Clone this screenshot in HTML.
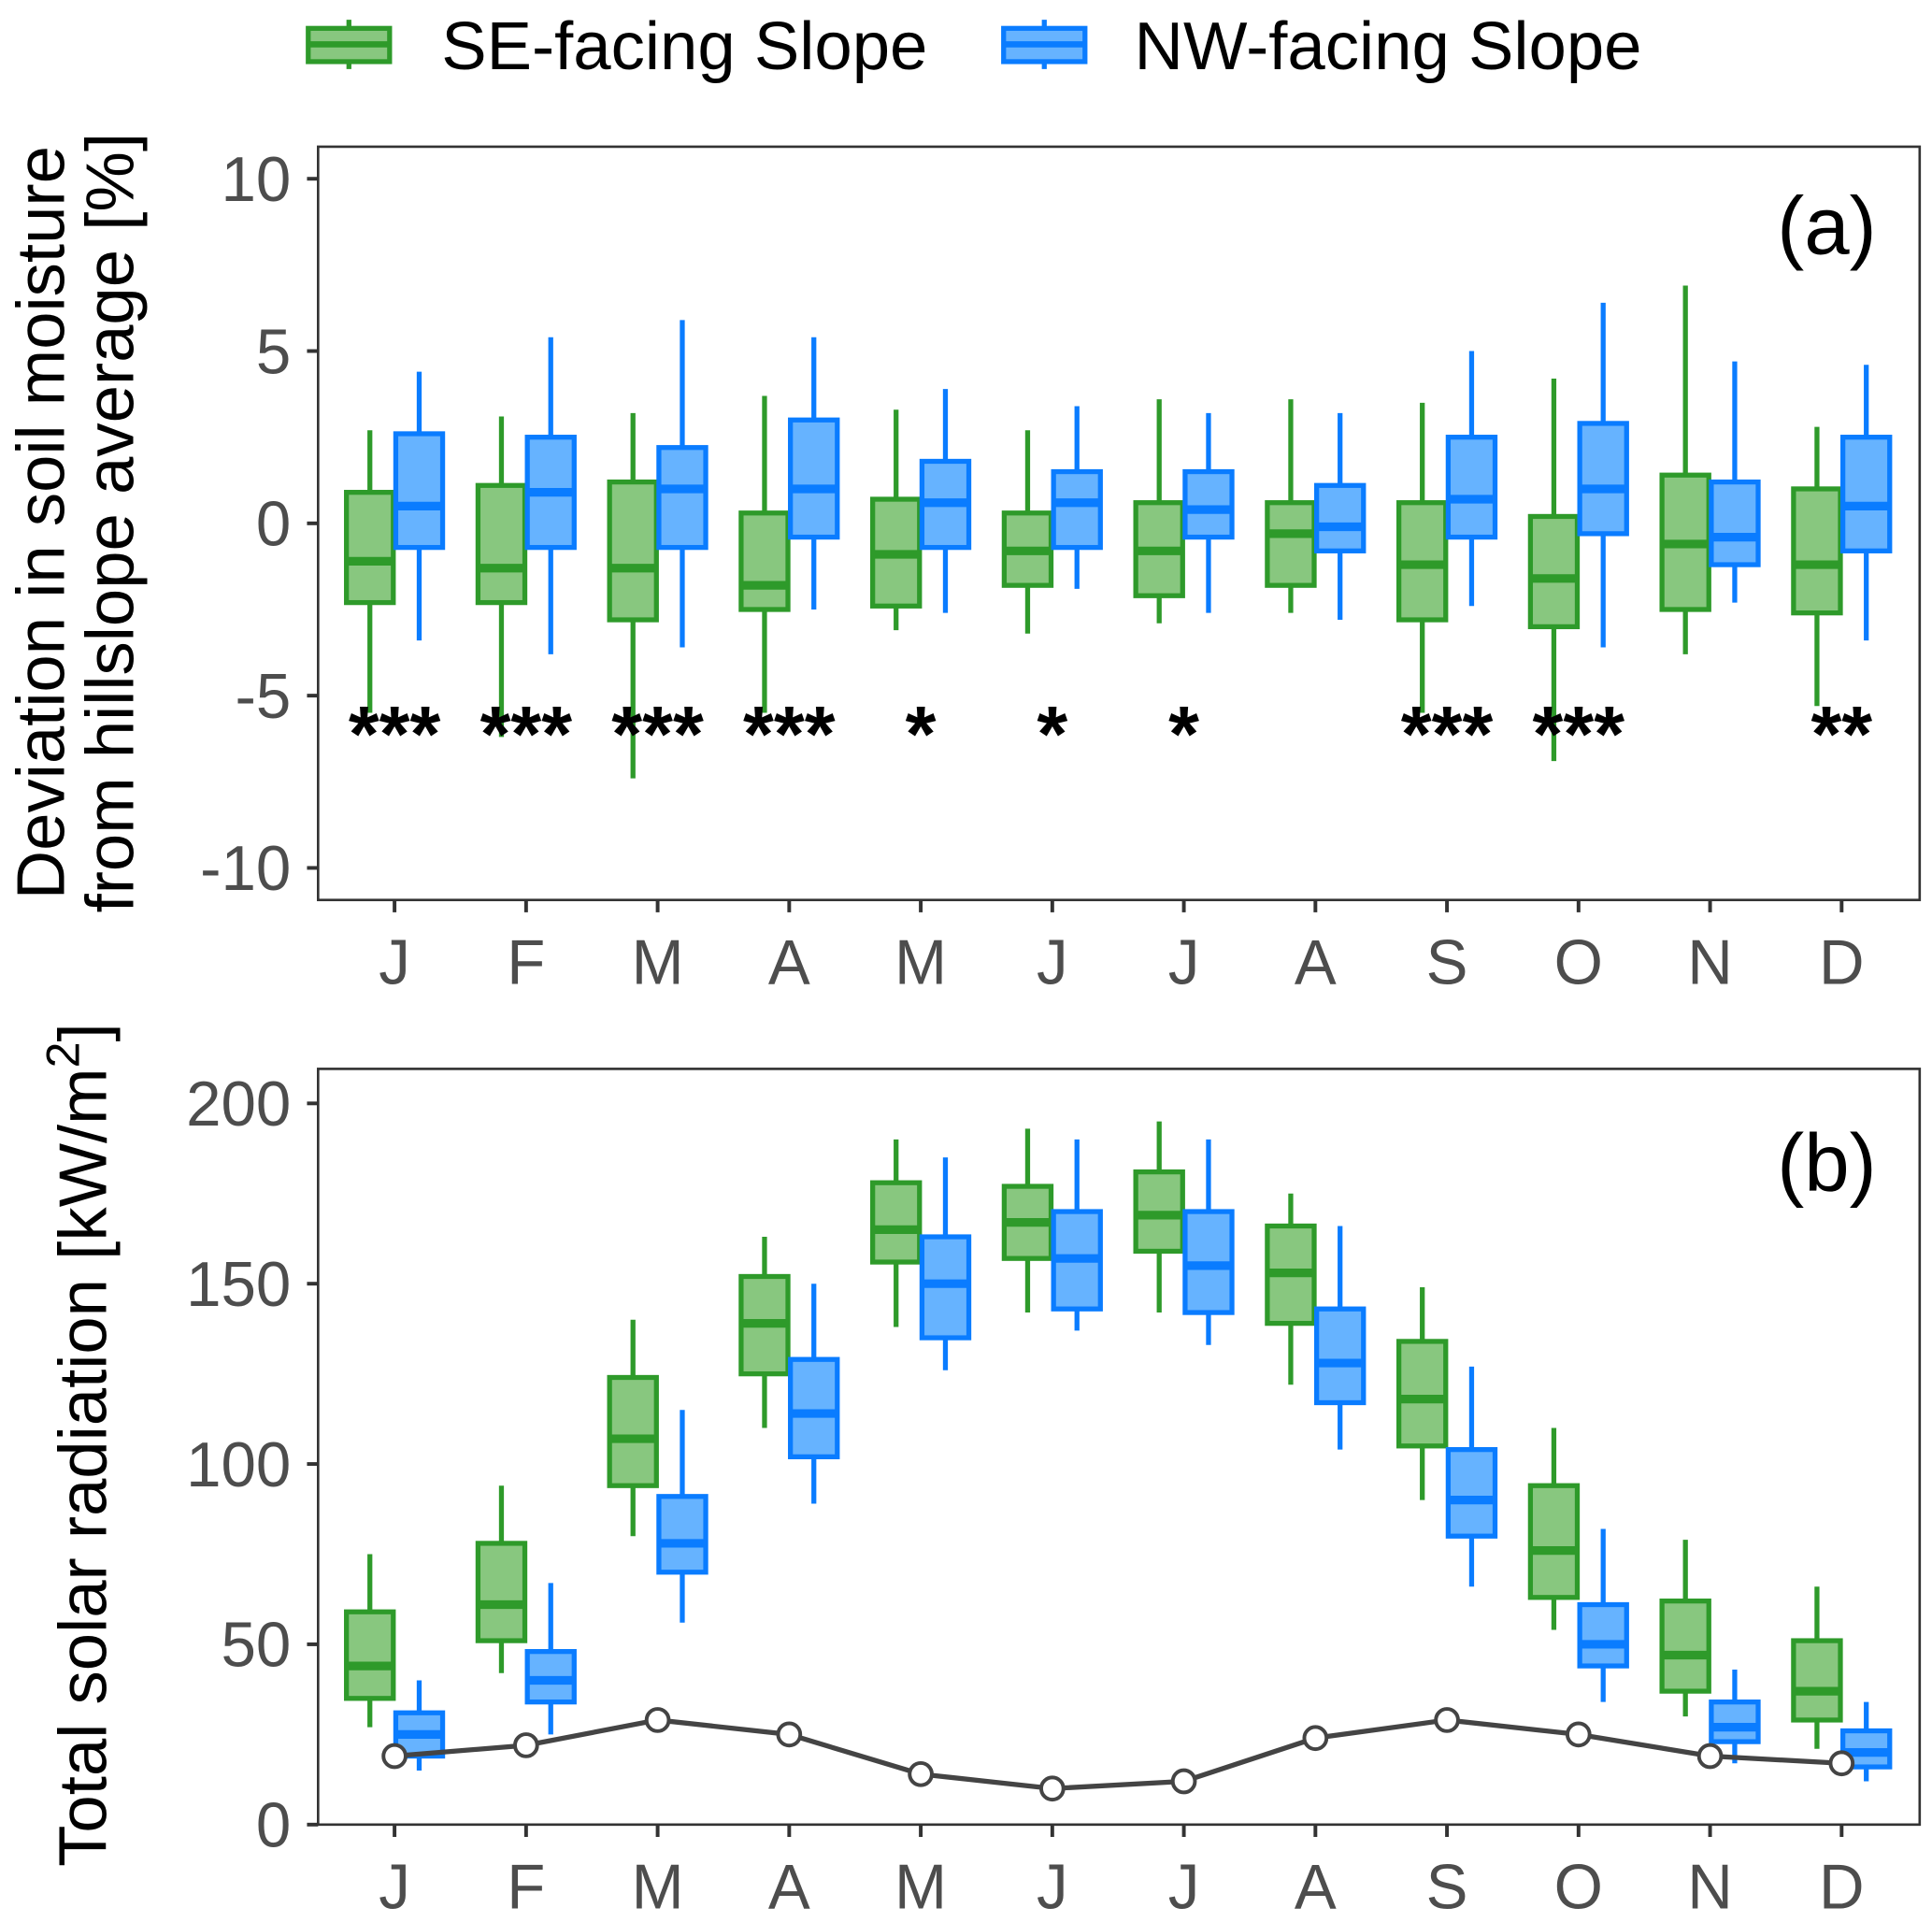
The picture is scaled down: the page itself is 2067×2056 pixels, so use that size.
<!DOCTYPE html>
<html><head><meta charset="utf-8"><style>
html,body{margin:0;padding:0;background:#fff}
svg{display:block}
text{font-family:"Liberation Sans",Arial,sans-serif}
</style></head><body>
<svg id="chart" width="2067" height="2056" viewBox="0 0 1567 1559" preserveAspectRatio="none" xmlns="http://www.w3.org/2000/svg">
<g>
 <g>
  <line x1="283" y1="16" x2="283" y2="56" stroke="#2e9a2a" stroke-width="4"/>
  <rect x="250" y="23" width="66" height="27" fill="#88c77f" stroke="#2e9a2a" stroke-width="4"/>
  <line x1="250" y1="36" x2="316" y2="36" stroke="#2e9a2a" stroke-width="5"/>
  <text x="358" y="56" font-size="55" fill="#000">SE-facing Slope</text>
 </g>
 <g>
  <line x1="847" y1="16" x2="847" y2="56" stroke="#0a7cff" stroke-width="4"/>
  <rect x="814" y="23" width="66" height="27" fill="#66b3ff" stroke="#0a7cff" stroke-width="4"/>
  <line x1="814" y1="36" x2="880" y2="36" stroke="#0a7cff" stroke-width="5"/>
  <text x="920" y="56" font-size="55" fill="#000">NW-facing Slope</text>
 </g>
</g>
<g id="pa"></g>
<g id="pb"></g>
</svg>
<script>
const months = ["J","F","M","A","M","J","J","A","S","O","N","D"];
// [whiskerLow, q1, median, q3, whiskerHigh]
const moistSE = [[-5.5,-2.3,-1.1,0.9,2.7],[-6.2,-2.3,-1.3,1.1,3.1],[-7.4,-2.8,-1.3,1.2,3.2],[-5.5,-2.5,-1.8,0.3,3.7],[-3.1,-2.4,-0.9,0.7,3.3],[-3.2,-1.8,-0.8,0.3,2.7],[-2.9,-2.1,-0.8,0.6,3.6],[-2.6,-1.8,-0.3,0.6,3.6],[-5.5,-2.8,-1.2,0.6,3.5],[-6.9,-3.0,-1.6,0.2,4.2],[-3.8,-2.5,-0.6,1.4,6.9],[-5.3,-2.6,-1.2,1.0,2.8]];
const moistNW = [[-3.4,-0.7,0.5,2.6,4.4],[-3.8,-0.7,0.9,2.5,5.4],[-3.6,-0.7,1.0,2.2,5.9],[-2.5,-0.4,1.0,3.0,5.4],[-2.6,-0.7,0.6,1.8,3.9],[-1.9,-0.7,0.6,1.5,3.4],[-2.6,-0.4,0.4,1.5,3.2],[-2.8,-0.8,-0.1,1.1,3.2],[-2.4,-0.4,0.7,2.5,5.0],[-3.6,-0.3,1.0,2.9,6.4],[-2.3,-1.2,-0.4,1.2,4.7],[-3.4,-0.8,0.5,2.5,4.6]];
const signif = ["***","***","***","***","*","*","*","","***","***","","**"];
const moistTicks = [10,5,0,-5,-10];
const radSE = [[27,35,44,59,75],[42,51,61,78,94],[80,94,107,124,140],[110,125,139,152,163],[138,156,165,178,190],[142,157,167,177,193],[142,159,169,181,195],[122,139,153,166,175],[90,105,118,134,149],[54,63,76,94,110],[30,37,47,62,79],[21,29,37,51,66]];
const radNW = [[15,19,25,31,40],[25,34,40,48,67],[56,70,78,91,115],[89,102,114,129,150],[126,135,150,163,185],[137,143,157,170,190],[133,142,155,170,190],[104,117,128,143,166],[66,80,90,104,127],[34,44,50,61,82],[17,23,27,34,43],[12,16,20,26,34]];
const radLine = [19,22,29,25,14,10,12,24,29,25,19,17];
const radTicks = [200,150,100,50,0];

const NS="http://www.w3.org/2000/svg";
function mk(parent,tag,attrs,txt){const e=document.createElementNS(NS,tag);for(const k in attrs)e.setAttribute(k,attrs[k]);if(txt!==undefined)e.textContent=txt;parent.appendChild(e);return e;}
const xPos = i => 320 + i*106.7;
const L=258,R=1557;

function panel(g, top, bottom, yTop, yBot, ymin, ymax, ticks, se, nw, label, labelY){
  const y = v => yBot - (v-ymin)/(ymax-ymin)*(yBot-yTop);
  const frame = mk(g,'rect',{x:L,y:top,width:R-L,height:bottom-top,fill:'none',stroke:'#333',"stroke-width":2});
  
  
  ticks.forEach(t=>{
    const tl = mk(g,'line',{x1:L-9,x2:L,y1:y(t),y2:y(t),stroke:'#333',"stroke-width":3});
    
    
    const tx = mk(g,'text',{x:L-22,y:y(t)+18,"font-size":51,fill:'#4d4d4d',"text-anchor":'end'},String(t));
    
    
  });
  months.forEach((m,i)=>{
    const tl = mk(g,'line',{x1:xPos(i),x2:xPos(i),y1:bottom,y2:bottom+10,stroke:'#333',"stroke-width":3});
    
    
    const tx = mk(g,'text',{x:xPos(i),y:bottom+68,"font-size":51,fill:'#4d4d4d',"text-anchor":'middle'},m);
    
    
  });
  function box(d,cx,fill,stroke,name){
    const b = mk(g,'g',{});
    
    
    mk(b,'line',{x1:cx,x2:cx,y1:y(d[0]),y2:y(d[4]),stroke:stroke,"stroke-width":4});
    mk(b,'rect',{x:cx-19,y:y(d[3]),width:38,height:y(d[1])-y(d[3]),fill:fill,stroke:stroke,"stroke-width":4});
    mk(b,'line',{x1:cx-19,x2:cx+19,y1:y(d[2]),y2:y(d[2]),stroke:stroke,"stroke-width":7});
  }
  months.forEach((m,i)=>{
    box(se[i],xPos(i)-20,'#88c77f','#2e9a2a','box-se-'+i);
    box(nw[i],xPos(i)+20,'#66b3ff','#0a7cff','box-nw-'+i);
  });
  const pl = mk(g,'text',{x:1522,y:labelY,"font-size":66,fill:'#000',"text-anchor":'end'},label);
  
  
  return y;
}

const pa=document.getElementById('pa');
const ya = panel(pa,119,730,145,704,-10,10,moistTicks,moistSE,moistNW,'(a)',206);
signif.forEach((s,i)=>{
  if(!s) return;
  const t = mk(pa,'text',{x:xPos(i),y:ya(-5.9)+28,"font-size":64,"font-weight":'bold',fill:'#000',"text-anchor":'middle'},s);
  
  
});
const ta = mk(pa,'text',{transform:'translate(52,424) rotate(-90)',"font-size":55,fill:'#000',"text-anchor":'middle'},'Deviation in soil moisture');


const tb = mk(pa,'text',{transform:'translate(108,424) rotate(-90)',"font-size":55,fill:'#000',"text-anchor":'middle'},'from hillslope average [%]');



const pb=document.getElementById('pb');
const yb = panel(pb,867,1480,895,1480,0,200,radTicks,radSE,radNW,'(b)',966);
const pts = radLine.map((v,i)=>xPos(i)+','+yb(v)).join(' ');
const pln = mk(pb,'polyline',{points:pts,fill:'none',stroke:'#444',"stroke-width":4});


radLine.forEach((v,i)=>{
  const c = mk(pb,'circle',{cx:xPos(i),cy:yb(v),r:9,fill:'#fff',stroke:'#444',"stroke-width":3});
  
  
});
const tc = mk(pb,'text',{transform:'translate(86,1172) rotate(-90)',"font-size":55,fill:'#000',"text-anchor":'middle'});


tc.appendChild(document.createTextNode('Total solar radiation [kW/m'));
const sup = mk(tc,'tspan',{dy:-22,"font-size":38},'2');
const cl = mk(tc,'tspan',{dy:22},']');
</script>
</body></html>
